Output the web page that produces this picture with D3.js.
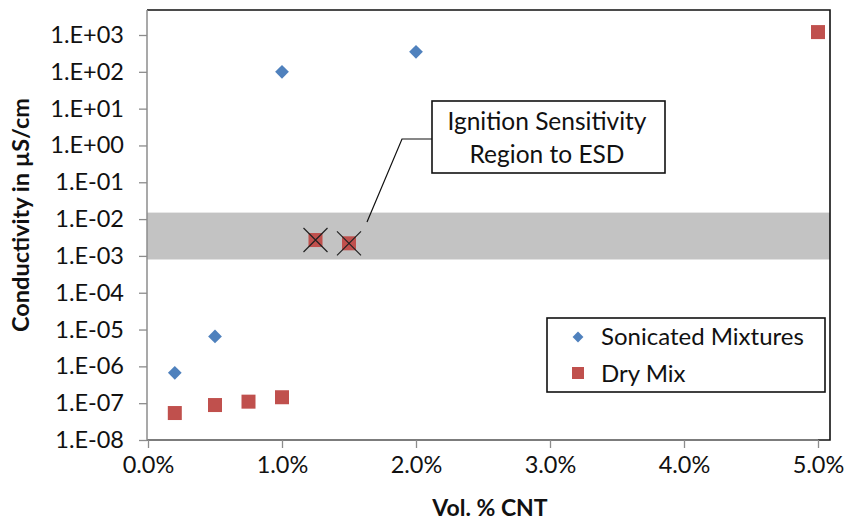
<!DOCTYPE html>
<html>
<head>
<meta charset="utf-8">
<script src="https://cdn.jsdelivr.net/npm/d3@7"></script>
<style>
  body { margin: 0; background: #fff; }
  svg text { font-family: Lato, "Open Sans", sans-serif; fill: #111; }
</style>
</head>
<body>
<div id="chart"></div>
<script>

// data (x = volume fraction of CNT, y = conductivity in uS/cm)
var sonicatedX = [0.002, 0.005, 0.01, 0.02];
var sonicatedY = [6.7e-7, 6.5e-6, 100, 350];

var dryX = [0.002, 0.005, 0.0075, 0.01, 0.0125, 0.015, 0.05];
var dryY = [5.4e-8, 8.9e-8, 1.1e-7, 1.45e-7, 2.7e-3, 2.2e-3, 1200];

// dry mix points crossed out inside the ESD band
var crossedX = [0.0125, 0.015];

// shaded ignition sensitivity band
var bandLow = 8e-4, bandHigh = 1.5e-2;

var xTicks = [0, 0.01, 0.02, 0.03, 0.04, 0.05];
var yTicks = [1e-8, 1e-7, 1e-6, 1e-5, 1e-4, 1e-3, 1e-2, 1e-1, 1e0, 1e1, 1e2, 1e3];

var seriesNames = ["Sonicated Mixtures", "Dry Mix"];

// set the dimensions of the page / plot
var W = 845, H = 523;
var left = 147, bottom = 440, frameTop = 10, frameRight = 830;

var svg = d3.select("#chart")
  .append("svg")
    .attr("width", W)
    .attr("height", H);

var x = d3.scaleLinear()
  .domain([0, 0.05])
  .range([148, 818]);

var y = d3.scaleLog()
  .domain([1e-8, 1e3])
  .range([bottom, 35]);

// band
svg.append("rect")
  .attr("x", left)
  .attr("y", y(bandHigh))
  .attr("width", frameRight - left)
  .attr("height", y(bandLow) - y(bandHigh))
  .attr("fill", "#c3c3c3");

// black frame (top / right)
svg.append("path")
  .attr("d", "M" + left + "," + frameTop + "H" + frameRight + "V" + bottom + "H" + left)
  .attr("fill", "none")
  .attr("stroke", "#111")
  .attr("stroke-width", 1.6);

// X axis
var xAxis = svg.append("g")
  .attr("transform", "translate(0," + bottom + ")")
  .call(d3.axisBottom(x).tickValues(xTicks).tickSize(8).tickSizeOuter(0)
    .tickFormat(function(d) { return (d * 100).toFixed(1) + "%"; }));
xAxis.select(".domain").attr("stroke", "#8c8c8c").attr("stroke-width", 1.5)
  .attr("d", "M" + left + ",0H" + x(0.05));
xAxis.selectAll(".tick line").attr("stroke", "#8c8c8c").attr("stroke-width", 1.3);
xAxis.selectAll(".tick text")
  .attr("y", 16)
  .attr("dy", "0.71em")
  .style("font-size", "23.5px")
  .style("font-family", "Lato, sans-serif")
  .attr("fill", "#111");

// Y axis
var yAxis = svg.append("g")
  .attr("transform", "translate(" + left + ",0)")
  .call(d3.axisLeft(y).tickValues(yTicks).tickSize(8).tickSizeOuter(0)
    .tickFormat(function(d) {
      var e = Math.round(Math.log10(d));
      var s = Math.abs(e) < 10 ? "0" + Math.abs(e) : "" + Math.abs(e);
      return "1.E" + (e < 0 ? "-" : "+") + s;
    }));
yAxis.select(".domain").attr("stroke", "#8c8c8c").attr("stroke-width", 1.5)
  .attr("d", "M0," + bottom + "V" + frameTop);
yAxis.selectAll(".tick line").attr("stroke", "#8c8c8c").attr("stroke-width", 1.3);
yAxis.selectAll(".tick text")
  .attr("x", -23)
  .style("font-size", "23.5px")
  .style("font-family", "Lato, sans-serif")
  .attr("fill", "#111");

// axis titles
svg.append("text")
  .attr("x", 490)
  .attr("y", 516)
  .attr("text-anchor", "middle")
  .style("font-size", "23px")
  .style("font-weight", "bold")
  .text("Vol. % CNT");

svg.append("text")
  .attr("transform", "translate(29,215) rotate(-90)")
  .attr("text-anchor", "middle")
  .style("font-size", "23.5px")
  .style("font-weight", "bold")
  .text("Conductivity in \u00b5S/cm");

// markers
var sonicated = sonicatedX.map(function(d, i) { return {x: d, y: sonicatedY[i]}; });
var dry = dryX.map(function(d, i) { return {x: d, y: dryY[i]}; });

svg.selectAll(".dia")
  .data(sonicated)
  .enter()
  .append("path")
    .attr("class", "dia")
    .attr("d", d3.symbol().type(d3.symbolDiamond2).size(120))
    .attr("transform", function(d) { return "translate(" + x(d.x) + "," + y(d.y) + ")"; })
    .attr("fill", "#4f81bd");

svg.selectAll(".sq")
  .data(dry)
  .enter()
  .append("rect")
    .attr("class", "sq")
    .attr("x", function(d) { return x(d.x) - 7; })
    .attr("y", function(d) { return y(d.y) - 7; })
    .attr("width", 14)
    .attr("height", 14)
    .attr("fill", "#c0504d");

// crosses over the points inside the band
var crossed = dry.filter(function(d) { return crossedX.indexOf(d.x) >= 0; });
svg.selectAll(".cross")
  .data(crossed)
  .enter()
  .append("path")
    .attr("class", "cross")
    .attr("d", function(d) {
      var cx = x(d.x), cy = y(d.y), r = 12;
      return "M" + (cx - r) + "," + (cy - r) + "L" + (cx + r) + "," + (cy + r) +
             "M" + (cx - r) + "," + (cy + r) + "L" + (cx + r) + "," + (cy - r);
    })
    .attr("stroke", "#222")
    .attr("stroke-width", 1.2)
    .attr("fill", "none");

// annotation callout
svg.append("path")
  .attr("d", "M432,139H402L367,222")
  .attr("fill", "none")
  .attr("stroke", "#111")
  .attr("stroke-width", 1.2);

svg.append("rect")
  .attr("x", 432).attr("y", 101)
  .attr("width", 233).attr("height", 72)
  .attr("fill", "#fff")
  .attr("stroke", "#111")
  .attr("stroke-width", 1.6);

svg.append("text")
  .attr("x", 547).attr("y", 130)
  .attr("text-anchor", "middle")
  .style("font-size", "24.5px")
  .text("Ignition Sensitivity");
svg.append("text")
  .attr("x", 547).attr("y", 163)
  .attr("text-anchor", "middle")
  .style("font-size", "24.5px")
  .text("Region to ESD");

// legend
var lg = svg.append("g");
lg.append("rect")
  .attr("x", 547).attr("y", 318)
  .attr("width", 278).attr("height", 74)
  .attr("fill", "#fff")
  .attr("stroke", "#111")
  .attr("stroke-width", 1.6);

lg.append("path")
  .attr("d", d3.symbol().type(d3.symbolDiamond2).size(75))
  .attr("transform", "translate(578,337)")
  .attr("fill", "#4f81bd");
lg.append("rect")
  .attr("x", 572).attr("y", 367)
  .attr("width", 12).attr("height", 12)
  .attr("fill", "#c0504d");

lg.selectAll(".lt")
  .data(seriesNames)
  .enter()
  .append("text")
    .attr("class", "lt")
    .attr("x", 601)
    .attr("y", function(d, i) { return 345 + i * 37; })
    .style("font-size", "24px")
    .text(function(d) { return d; });

</script>
</body>
</html>
